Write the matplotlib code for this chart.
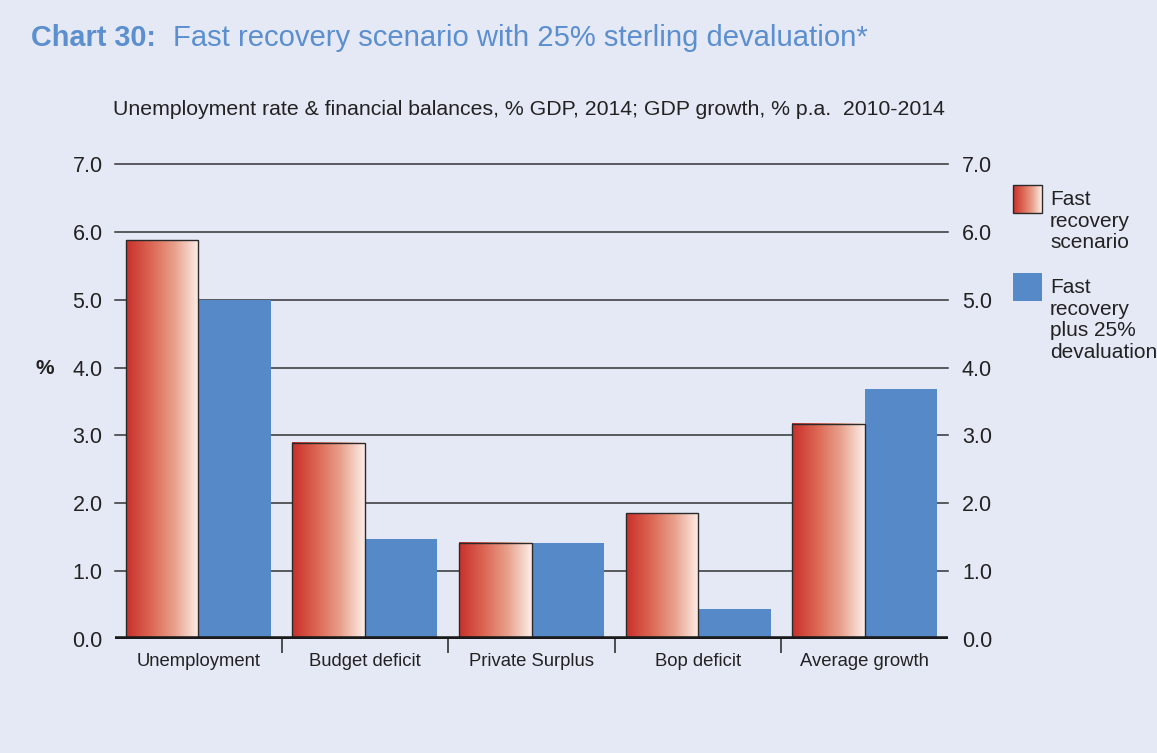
import numpy as np
import matplotlib.pyplot as plt
from matplotlib.colors import LinearSegmentedColormap

categories = ['Unemployment', 'Budget deficit', 'Private Surplus', 'Bop deficit', 'Average growth']
fast_recovery = [5.88, 2.89, 1.42, 1.85, 3.17]
fast_plus_deval = [5.0, 1.48, 1.42, 0.44, 3.68]
yticks = [0, 1, 2, 3, 4, 5, 6, 7]

bg = '#E5E9F6'
blue = '#5589C8'
title_blue = '#5B8FD0'
red_grad = LinearSegmentedColormap.from_list('redgrad', ['#C9302B', '#DB6552', '#E8A18C', '#FCEEE8'])

plt.rcParams['font.family'] = ['Liberation Sans', 'DejaVu Sans']

fig = plt.figure(figsize=(11.57, 7.53), dpi=100, facecolor=bg)
ax = fig.add_axes([115 / 1157, 0.1514, 833 / 1157, 0.6308])
ax.set_facecolor(bg)

x = np.arange(len(categories))
w = 0.435
bars_r = ax.bar(x - w / 2, fast_recovery, w, facecolor='none', edgecolor='#2a2a2a', linewidth=1.0, zorder=4)
ax.bar(x + w / 2, fast_plus_deval, w, color=blue, zorder=3)

grad = np.linspace(0, 1, 256).reshape(1, -1)
for b in bars_r:
    x0, y0 = b.get_x(), b.get_y()
    ax.imshow(grad, cmap=red_grad, aspect='auto', zorder=3,
              extent=[x0, x0 + b.get_width(), y0, y0 + b.get_height()])

ax.set_xlim(-0.5, len(categories) - 0.5)
ax.set_ylim(0, 7)
for v in yticks[1:]:
    ax.axhline(v, color='#333333', lw=1.1, zorder=1, clip_on=False)
ax.axhline(0, color='#1a1a1a', lw=4, zorder=5)

for s in ax.spines.values():
    s.set_visible(False)

ax.set_yticks(yticks)
ax.set_yticklabels([f'{v:.1f}' for v in yticks])
ax.tick_params(axis='y', length=0, pad=9, labelsize=15.5, colors='#222222')

ax2 = ax.twinx()
ax2.set_ylim(ax.get_ylim())
ax2.set_yticks(yticks)
ax2.set_yticklabels([f'{v:.1f}' for v in yticks])
ax2.tick_params(axis='y', length=0, pad=10, labelsize=15.5, colors='#222222')
for s in ax2.spines.values():
    s.set_visible(False)

ax.set_xticks(x)
ax.set_xticklabels(categories)
ax.tick_params(axis='x', length=0, pad=10, labelsize=13.3, colors='#222222')
ax.set_xticks(np.arange(0.5, len(categories) - 1, 1), minor=True)
ax.tick_params(axis='x', which='minor', length=10, width=1.2, color='#333333', direction='out')

fig.text(0.039, 0.511, '%', fontsize=15, fontweight='bold', color='#222222', va='center', ha='center')

fig.text(0.027, 0.949, 'Chart 30:', fontsize=20.8, fontweight='bold', color=title_blue, va='center')
fig.text(0.1495, 0.949, 'Fast recovery scenario with 25% sterling devaluation*', fontsize=21.1,
         color=title_blue, va='center')
fig.text(0.098, 0.854, 'Unemployment rate & financial balances, % GDP, 2014; GDP growth, % p.a.  2010-2014',
         fontsize=15.3, color='#222222', va='center')

# legend
fig.patches.append(plt.Rectangle((1013 / 1157, 1 - 213 / 753), 29 / 1157, 28 / 753,
                                 transform=fig.transFigure, facecolor='none', edgecolor='#2a2a2a', lw=1, zorder=3))
lax = fig.add_axes([1013 / 1157, 1 - 213 / 753, 29 / 1157, 28 / 753])
lax.imshow(grad, cmap=red_grad, aspect='auto')
lax.set_axis_off()
fig.patches.append(plt.Rectangle((1013 / 1157, 1 - 301 / 753), 29 / 1157, 28 / 753,
                                 transform=fig.transFigure, facecolor=blue, edgecolor='none'))
fig.text(1050 / 1157, 1 - 190 / 753, 'Fast\nrecovery\nscenario', fontsize=15, color='#222222',
         va='top', linespacing=1.17)
fig.text(1050 / 1157, 1 - 278 / 753, 'Fast\nrecovery\nplus 25%\ndevaluation', fontsize=15, color='#222222',
         va='top', linespacing=1.17)

fig.savefig('out.png', dpi=100, facecolor=bg)
